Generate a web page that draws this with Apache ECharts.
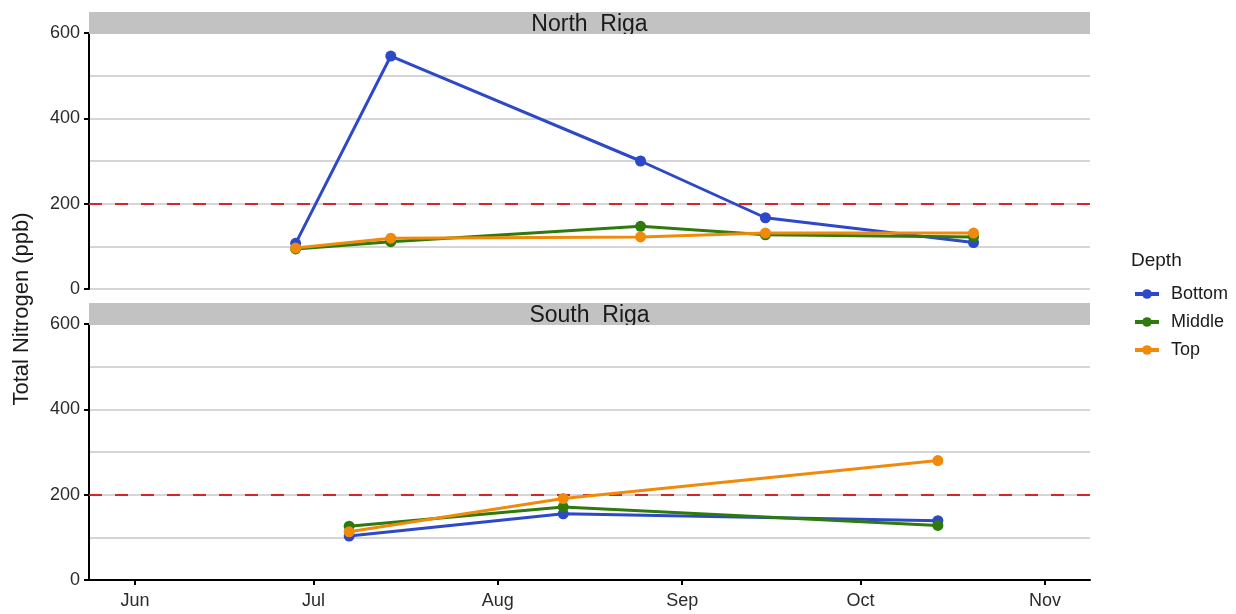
<!DOCTYPE html>
<html>
<head>
<meta charset="utf-8">
<script src="https://cdn.jsdelivr.net/npm/echarts@6/dist/echarts.min.js"></script>
<style>
  html, body { margin: 0; padding: 0; background: #fff; }
  #chart { width: 1236px; height: 614px; }
</style>
</head>
<body>
<div id="chart"></div>
<script>
// Sampling dates per site
const northDates = ['2019-06-28', '2019-07-14', '2019-08-25', '2019-09-15', '2019-10-20'];
const southDates = ['2019-07-07', '2019-08-12', '2019-10-14'];

// Total nitrogen (ppb) by depth
const northBottom = [107, 546, 300, 167, 109];
const northMiddle = [94, 111, 147, 127, 122];
const northTop    = [96, 119, 122, 131, 131];
const southBottom = [103, 155, 139];
const southMiddle = [126, 171, 128];
const southTop    = [113, 191, 280];

const depths = ['Bottom', 'Middle', 'Top'];
const sites = ['North  Riga', 'South  Riga'];
const monthLabels = ['Jan', 'Feb', 'Mar', 'Apr', 'May', 'Jun', 'Jul', 'Aug', 'Sep', 'Oct', 'Nov', 'Dec'];
const threshold = 200;

const colors = { Bottom: '#2d48c9', Middle: '#2f7a0c', Top: '#f08a0b' };
const FONT = 'Liberation Sans, Arial, sans-serif';

function toDate(s) {
  const p = s.split('-').map(Number);
  return new Date(p[0], p[1] - 1, p[2]).getTime();
}
function pairs(dates, vals) {
  return dates.map((d, i) => [toDate(d), vals[i]]);
}

const xMin = new Date(2019, 4, 24, 6).getTime();
const xMax = new Date(2019, 10, 8, 14).getTime();

const gridLeft = 89, gridRight = 1236 - 1090, plotH = 256;
const gridTops = [33, 324];

function yAxis(idx) {
  return {
    type: 'value', gridIndex: idx, min: 0, max: 600, interval: 200,
    axisLine: { show: true, lineStyle: { color: '#000', width: 2 } },
    axisTick: { show: true, length: 5, lineStyle: { color: '#000', width: 2 } },
    axisLabel: { color: '#2b2b2b', fontSize: 18, fontFamily: FONT, margin: 9 },
    splitLine: { show: true, lineStyle: { color: '#c8c8c8', width: 1.5 } },
    minorTick: { show: false, splitNumber: 2 },
    minorSplitLine: { show: true, lineStyle: { color: '#c8c8c8', width: 1.5 } }
  };
}

function xAxis(idx, visible) {
  return {
    type: 'time', gridIndex: idx, min: xMin, max: xMax,
    minInterval: 28 * 86400000, maxInterval: 31 * 86400000,
    axisLine: { show: visible, onZero: false, lineStyle: { color: '#000', width: 2 } },
    axisTick: { show: visible, length: 5, lineStyle: { color: '#000', width: 2 } },
    axisLabel: {
      show: visible, color: '#2b2b2b', fontSize: 18, fontFamily: FONT, margin: 12,
      formatter: v => monthLabels[new Date(v).getMonth()]
    },
    splitLine: { show: false }
  };
}

function lineSeries(name, idx, data, withRef) {
  const s = {
    name: name, type: 'line', xAxisIndex: idx, yAxisIndex: idx,
    data: data, symbol: 'circle', symbolSize: 11, showSymbol: true,
    lineStyle: { width: 3, color: colors[name] },
    itemStyle: { color: colors[name] },
    z: 3
  };
  if (withRef) {
    s.markLine = {
      silent: true, symbol: 'none', label: { show: false },
      lineStyle: { color: '#d7262b', width: 2, type: [13, 13] },
      data: [{ yAxis: threshold }],
      z: 2
    };
  }
  return s;
}

const series = [
  lineSeries('Bottom', 0, pairs(northDates, northBottom), true),
  lineSeries('Middle', 0, pairs(northDates, northMiddle), false),
  lineSeries('Top', 0, pairs(northDates, northTop), false),
  lineSeries('Bottom', 1, pairs(southDates, southBottom), true),
  lineSeries('Middle', 1, pairs(southDates, southMiddle), false),
  lineSeries('Top', 1, pairs(southDates, southTop), false)
];

const stripW = 1090 - gridLeft;
const graphics = [];
sites.forEach((name, i) => {
  const top = gridTops[i] - 21;
  graphics.push({
    type: 'rect', left: gridLeft, top: top, z: 10,
    shape: { width: stripW, height: 22 },
    style: { fill: '#c2c2c2' }
  });
  graphics.push({
    type: 'text', x: gridLeft + stripW / 2, y: top + 13, z: 11,
    style: { text: name, fill: '#1a1a1a', font: '23px ' + FONT, align: 'center', verticalAlign: 'middle' }
  });
  // strip text is clipped at the strip's lower edge
  graphics.push({
    type: 'rect', x: gridLeft + stripW / 2 - 80, y: top + 22, z: 12,
    shape: { width: 160, height: 7 },
    style: { fill: '#fff' }
  });
});
graphics.push({
  type: 'text', x: 22, y: 309, rotation: Math.PI / 2,
  style: { text: 'Total Nitrogen (ppb)', fill: '#1a1a1a', font: '22px ' + FONT, align: 'center', verticalAlign: 'middle' }
});
graphics.push({
  type: 'text', x: 1131, y: 261,
  style: { text: 'Depth', fill: '#1a1a1a', font: '19px ' + FONT, align: 'left', verticalAlign: 'middle' }
});

const chart = echarts.init(document.getElementById('chart'), null, { renderer: 'canvas' });
chart.setOption({
  animation: false,
  backgroundColor: '#fff',
  grid: gridTops.map(t => ({ left: gridLeft, right: gridRight, top: t, height: plotH, containLabel: false })),
  xAxis: [xAxis(0, false), xAxis(1, true)],
  yAxis: [yAxis(0), yAxis(1)],
  legend: {
    data: depths, orient: 'vertical', left: 1128, top: 280,
    itemWidth: 24, itemHeight: 12, itemGap: 10,
    lineStyle: { width: 4 },
    textStyle: { color: '#1a1a1a', fontSize: 18, fontFamily: FONT, padding: [0, 0, 0, 7] }
  },
  graphic: graphics,
  series: series
});
</script>
</body>
</html>
